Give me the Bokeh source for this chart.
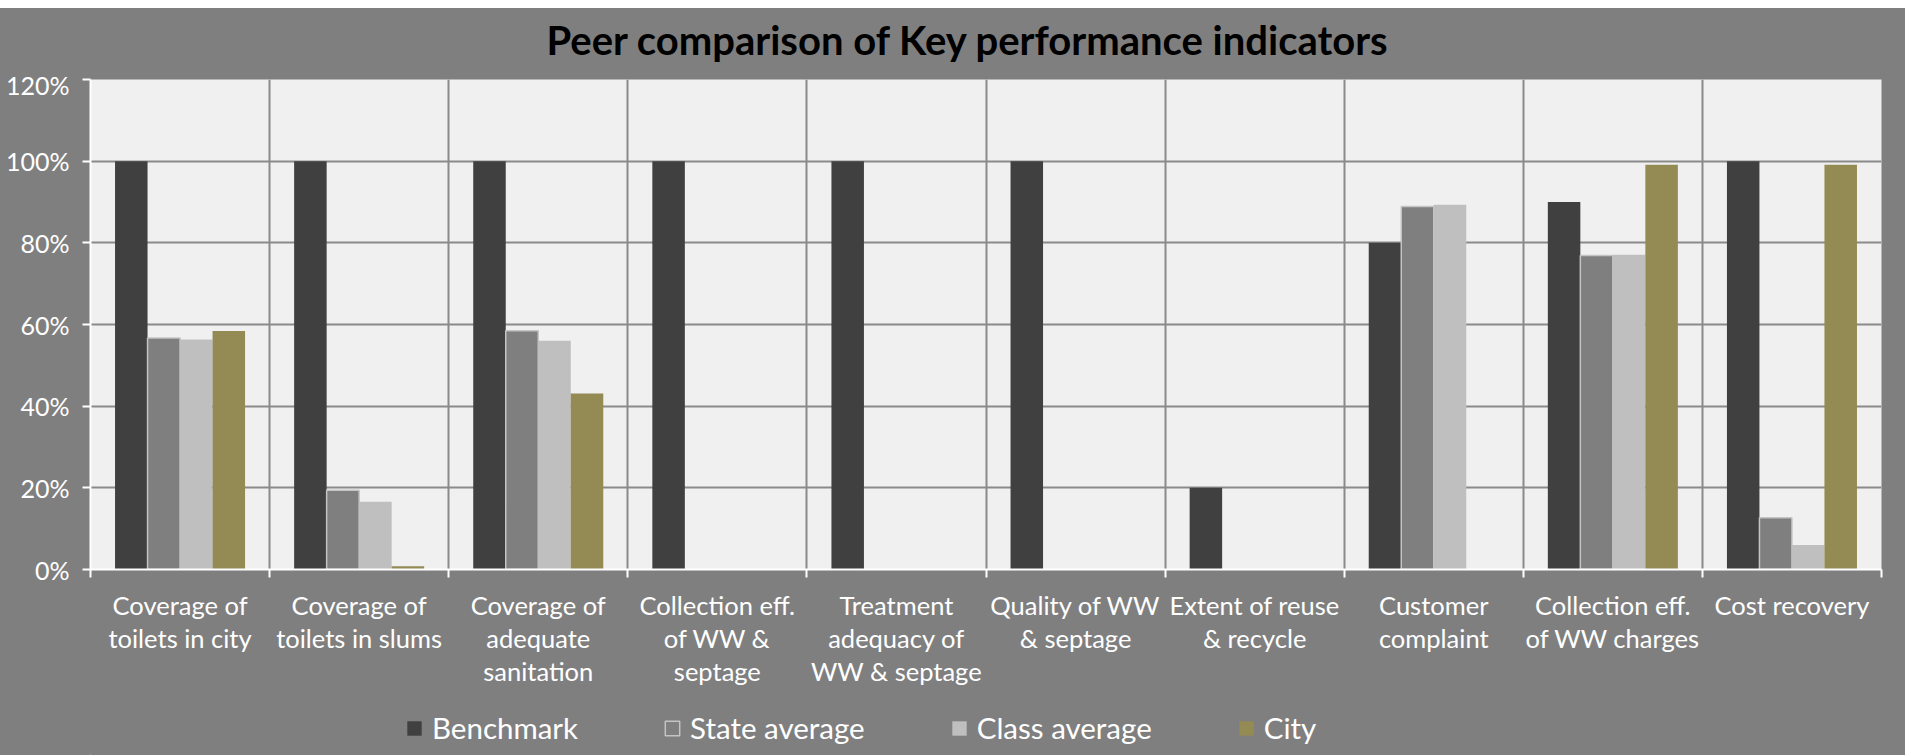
import math
from bokeh.plotting import figure
from bokeh.layouts import column
from bokeh.models import (ColumnDataSource, Range1d, FixedTicker, NumeralTickFormatter,
                          Legend, LegendItem, Spacer)
from bokeh.transform import dodge
from bokeh.embed import file_html
from bokeh.resources import INLINE

nan = float("nan")

# ---------------- data ----------------
categories = [
    "Coverage of\ntoilets in city",
    "Coverage of\ntoilets in slums",
    "Coverage of\nadequate\nsanitation",
    "Collection eff.\nof WW &\nseptage",
    "Treatment\nadequacy of\nWW & septage",
    "Quality of WW\n& septage",
    "Extent of reuse\n& recycle",
    "Customer\ncomplaint",
    "Collection eff.\nof WW charges",
    "Cost recovery",
]
benchmark = [1.00, 1.00, 1.00, 1.00, 1.00, 1.00, 0.20, 0.80, 0.90, 1.00]
state_average = [0.567, 0.194, 0.585, nan, nan, nan, nan, 0.889, 0.769, 0.127]
class_average = [0.563, 0.166, 0.560, nan, nan, nan, nan, 0.893, 0.771, 0.060]
city = [0.584, 0.008, 0.431, nan, nan, nan, nan, nan, 0.991, 0.991]
series_names = ["Benchmark", "State average", "Class average", "City"]
series_colors = ["#404040", "#7f7f7f", "#bfbfbf", "#948a54"]
y_ticks = [0.0, 0.2, 0.4, 0.6, 0.8, 1.0, 1.2]
title_text = "Peer comparison of Key performance indicators"

# ---------------- layout ----------------
W = 1905
TOP_GAP = 8
H_TITLE, H_MAIN, H_LEG = 61, 636, 50
LEFT, RIGHT, TOP = 90, 24, 10
BOTTOM = 136
FONT = "Lato"
BG = "#7f7f7f"
n = len(categories)


def strip_figure(height):
    f = figure(width=W, height=height, output_backend="svg", toolbar_location=None,
               x_range=Range1d(100, 101), y_range=Range1d(100, 101),
               x_axis_type=None, y_axis_type=None, min_border=0)
    f.background_fill_color = None
    f.border_fill_color = None
    f.outline_line_color = None
    f.styles = {"background-color": BG}
    return f


# title strip
pt = strip_figure(H_TITLE)
pt.title.text = title_text
pt.title.align = "left"
pt.title.offset = 456
pt.title.text_font = FONT
pt.title.text_font_style = "bold"
pt.title.text_font_size = "40px"
pt.title.text_color = "black"
pt.title.standoff = 10

# main chart
p = figure(width=W, height=H_MAIN, output_backend="svg", toolbar_location=None,
           x_range=Range1d(0, n), y_range=Range1d(0, 1.2),
           min_border_left=LEFT, min_border_right=RIGHT,
           min_border_top=TOP, min_border_bottom=BOTTOM)
p.background_fill_color = "#f0f0f0"
p.border_fill_color = BG
p.outline_line_color = None

centers = [i + 0.5 for i in range(n)]
src = ColumnDataSource(dict(
    x=centers, benchmark=benchmark, state=state_average, klass=class_average, city=city,
))
fields = ["benchmark", "state", "klass", "city"]
w = 0.1815
offsets = [-1.5 * w, -0.5 * w, 0.5 * w, 1.5 * w]


def add_bars(fig):
    rs = []
    for f, off, col in zip(fields, offsets, series_colors):
        if f == "state":
            rs.append(fig.vbar(x=dodge("x", off), top=f, width=w, source=src,
                               fill_color=col, line_color="#c4c4c4", line_width=1.5))
        else:
            rs.append(fig.vbar(x=dodge("x", off), top=f, width=w, source=src,
                               fill_color=col, line_color=None))
    return rs


add_bars(p)

# grids
p.ygrid.ticker = FixedTicker(ticks=[t for t in y_ticks if 0 < t < 1.2])
p.xgrid.ticker = FixedTicker(ticks=list(range(1, n)))
for g in (p.xgrid[0], p.ygrid[0]):
    g.grid_line_color = "#8a8a8a"
    g.grid_line_width = 2

# y axis
ya = p.yaxis[0]
ya.ticker = FixedTicker(ticks=y_ticks)
ya.formatter = NumeralTickFormatter(format="0%")
ya.axis_line_color = "white"
ya.axis_line_width = 2
ya.major_tick_line_color = "white"
ya.major_tick_line_width = 2
ya.major_tick_out = 8
ya.major_tick_in = 0
ya.minor_tick_line_color = None
ya.major_label_text_color = "white"
ya.major_label_text_font = FONT
ya.major_label_text_font_size = "25px"
ya.major_label_standoff = 13

# x axis: category names at centres, boundary ticks as minor ticks
xa = p.xaxis[0]
xa.ticker = FixedTicker(ticks=centers, minor_ticks=list(range(0, n + 1)))
xa.major_label_overrides = {c: lab for c, lab in zip(centers, categories)}
xa.axis_line_color = "white"
xa.axis_line_width = 2
xa.major_tick_line_color = None
xa.major_tick_out = 8
xa.major_tick_in = 0
xa.minor_tick_line_color = "white"
xa.minor_tick_line_width = 2
xa.minor_tick_out = 8
xa.minor_tick_in = 0
xa.major_label_text_color = "white"
xa.major_label_text_font = FONT
xa.major_label_text_font_size = "25.5px"
xa.major_label_text_line_height = 1.10
xa.major_label_standoff = 12

# legend strip below the chart (its bars lie outside its own view; only the legend shows)
pl = strip_figure(H_LEG)
leg_renderers = add_bars(pl)

legend = Legend(items=[LegendItem(label=nm, renderers=[r]) for nm, r in
                       zip(series_names, leg_renderers)],
                orientation="horizontal", location=(315, 10))
legend.label_text_color = "white"
legend.label_text_font = FONT
legend.label_text_font_size = "29.5px"
legend.glyph_width = 18
legend.glyph_height = 18
legend.label_standoff = 9
legend.spacing = 85
legend.padding = 0
legend.margin = 0
legend.border_line_color = None
legend.background_fill_alpha = 0
pl.add_layout(legend)

layout = column(Spacer(width=W, height=TOP_GAP, styles={"background-color": "white"}),
                pt, p, pl, spacing=0, styles={"background-color": BG})
open("out.html", "w").write(file_html(layout, INLINE))
